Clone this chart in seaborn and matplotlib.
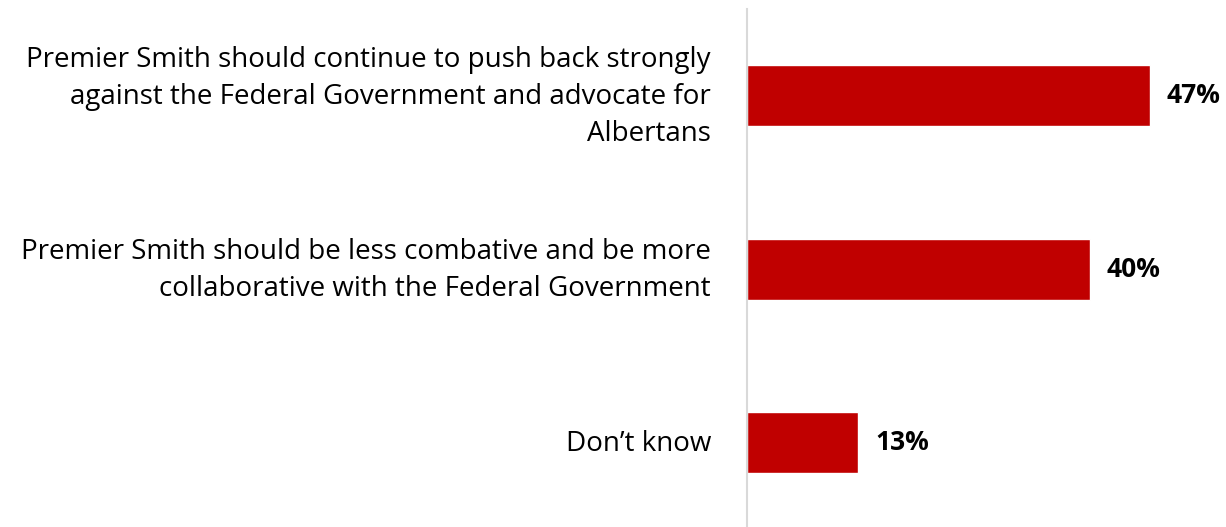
import matplotlib
matplotlib.use("Agg")
import matplotlib.pyplot as plt
import matplotlib.transforms as mtransforms
import seaborn as sns
import pandas as pd

categories = [
    "Premier Smith should continue to push back strongly\nagainst the Federal Government and advocate for\nAlbertans",
    "Premier Smith should be less combative and be more\ncollaborative with the Federal Government",
    "Don\u2019t know",
]
values = [47, 40, 13]
value_labels = ["47%", "40%", "13%"]

bar_color = "#C00000"

sns.set_theme(style="white")
plt.rcParams["font.family"] = ["Open Sans", "DejaVu Sans"]

df = pd.DataFrame({"category": categories, "value": values})

W, H = 1226, 527
fig = plt.figure(figsize=(W / 100, H / 100), dpi=100)
ax = fig.add_axes([747 / W, 0, (W - 747) / W, (H - 9) / H])

sns.barplot(data=df, x="value", y="category", orient="h", color=bar_color,
            width=0.35, saturation=1, ax=ax)

ax.set_xlim(0, (W - 747) / 8.57)
ax.set_ylim(2.485, -0.5)

for i, (v, lab) in enumerate(zip(values, value_labels)):
    ax.annotate(lab, xy=(v, i), xytext=(12, 0), textcoords="offset points",
                va="center", ha="left", fontsize=19, fontweight="bold", color="black")

# Category labels, right-aligned to the left of the axis line
label_tf = ax.get_yaxis_transform() + mtransforms.ScaledTranslation(
    -36 / 100, -1 / 100, fig.dpi_scale_trans)
for i, cat in enumerate(categories):
    ax.text(0, i, cat, transform=label_tf, ha="right", va="center",
            multialignment="right", fontsize=20, linespacing=1.43, color="black")

ax.set_xlabel("")
ax.set_ylabel("")
ax.set_xticks([])
ax.set_yticks([])

for side in ["top", "right", "bottom"]:
    ax.spines[side].set_visible(False)
ax.spines["left"].set_color("#D9D9D9")
ax.spines["left"].set_linewidth(1.5)

fig.savefig("out.png", dpi=100)
